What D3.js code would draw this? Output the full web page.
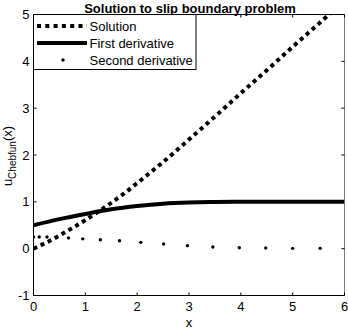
<!DOCTYPE html>
<html><head><meta charset="utf-8">
<script src="https://cdn.jsdelivr.net/npm/d3@7"></script>
<style>body{margin:0;background:#fff}svg{display:block;font-family:"Liberation Sans",Arial,sans-serif}</style>
</head><body><svg id="c" width="348" height="329"></svg>
<script>
const solX = [0,0.25,0.5,0.75,1,1.25,1.5,1.75,2,2.5,3,3.5,4,4.5,5,5.5,6];
const solY = [0,0.13,0.28,0.44,0.61,0.79,0.98,1.18,1.40,1.85,2.33,2.82,3.32,3.81,4.31,4.80,5.30];
const d1X = [0,0.5,1,1.5,2,2.5,3,3.5,4,5,6];
const d1Y = [0.50,0.63,0.74,0.84,0.91,0.96,0.985,0.995,1.0,1.0,1.0];
const d2X = [0,0.11,0.26,0.675,0.95,1.29,1.66,2.07,2.51,2.97,3.46,3.97,4.48,5.0,5.53];
const d2Y = [0.25,0.25,0.25,0.23,0.21,0.19,0.17,0.135,0.10,0.064,0.036,0.021,0.015,0.007,0.007];
const xTicks = [0,1,2,3,4,5,6];
const yTicks = [-1,0,1,2,3,4,5];
const legendLabels = ["Solution","First derivative","Second derivative"];
const title = "Solution to slip boundary problem";

const svg = d3.select("#c");
const x = d3.scaleLinear().domain([0,6]).range([33.5,344.5]);
const y = d3.scaleLinear().domain([-1,5]).range([295.5,14.5]);

svg.append("clipPath").attr("id","clip").append("rect")
  .attr("x",x(0)).attr("y",y(5)).attr("width",x(6)-x(0)).attr("height",y(-1)-y(5));

const g = svg.append("g").attr("clip-path","url(#clip)");
const line = d3.line().x(d=>x(d[0])).y(d=>y(d[1])).curve(d3.curveMonotoneX);

g.append("path").datum(solX.map((v,i)=>[v,solY[i]])).attr("d",line)
  .attr("fill","none").attr("stroke","#000").attr("stroke-width",4).attr("stroke-dasharray","4 3.9");
g.append("path").datum(d1X.map((v,i)=>[v,d1Y[i]])).attr("d",line)
  .attr("fill","none").attr("stroke","#000").attr("stroke-width",4);
g.selectAll("circle.d2").data(d2X.map((v,i)=>[v,d2Y[i]])).enter().append("circle")
  .attr("cx",d=>x(d[0])).attr("cy",d=>y(d[1])).attr("r",1.7).attr("fill","#000");

// axes box
const ax = svg.append("g");
ax.append("line").attr("x1",x(0)).attr("x2",x(6)).attr("y1",y(-1)).attr("y2",y(-1)).attr("stroke","#000");
ax.append("line").attr("x1",x(0)).attr("x2",x(6)).attr("y1",y(5)).attr("y2",y(5)).attr("stroke","#000");
ax.append("line").attr("x1",x(0)).attr("x2",x(0)).attr("y1",y(-1)).attr("y2",y(5)).attr("stroke","#000");
ax.append("line").attr("x1",x(6)).attr("x2",x(6)).attr("y1",y(-1)).attr("y2",y(5)).attr("stroke","#808080");

const tl = 3;
xTicks.forEach(t=>{
  ax.append("line").attr("x1",x(t)).attr("x2",x(t)).attr("y1",y(-1)).attr("y2",y(-1)-tl).attr("stroke","#000");
  ax.append("line").attr("x1",x(t)).attr("x2",x(t)).attr("y1",y(5)).attr("y2",y(5)+tl).attr("stroke","#000");
  ax.append("text").attr("x",x(t)).attr("y",y(-1)+15.5).attr("text-anchor","middle").attr("font-size",13).text(t);
});
yTicks.forEach(t=>{
  ax.append("line").attr("x1",x(0)).attr("x2",x(0)+tl).attr("y1",y(t)).attr("y2",y(t)).attr("stroke","#000");
  ax.append("line").attr("x1",x(6)).attr("x2",x(6)-tl).attr("y1",y(t)).attr("y2",y(t)).attr("stroke","#000");
  ax.append("text").attr("x",x(0)-4).attr("y",y(t)+4.5).attr("text-anchor","end").attr("font-size",13).text(t);
});

svg.append("text").attr("x",190).attr("y",12.5).attr("text-anchor","middle")
  .attr("font-size",13).attr("font-weight","bold").text(title);
svg.append("text").attr("x",189).attr("y",326.5).attr("text-anchor","middle").attr("font-size",13).text("x");
const yl = svg.append("text").attr("transform","translate(12,156) rotate(-90)").attr("text-anchor","middle").attr("font-size",13);
yl.append("tspan").text("u");
yl.append("tspan").attr("font-size",10).attr("dy",4).text("Chebfun");
yl.append("tspan").attr("dy",-4).text("(x)");

// legend
const lg = svg.append("g");
lg.append("rect").attr("x",x(0)).attr("y",y(5)).attr("width",196-x(0)).attr("height",69.5-y(5))
  .attr("fill","#fff").attr("stroke","#000");
const ly = [26,43,60];
lg.append("line").attr("x1",37).attr("x2",87).attr("y1",ly[0]).attr("y2",ly[0])
  .attr("stroke","#000").attr("stroke-width",4).attr("stroke-dasharray","4 4.3");
lg.append("line").attr("x1",37).attr("x2",87).attr("y1",ly[1]).attr("y2",ly[1])
  .attr("stroke","#000").attr("stroke-width",4);
lg.append("circle").attr("cx",63).attr("cy",ly[2]).attr("r",1.7).attr("fill","#000");
legendLabels.forEach((s,i)=>{
  lg.append("text").attr("x",89.5).attr("y",ly[i]+4.5).attr("font-size",13).text(s);
});
</script></body></html>
